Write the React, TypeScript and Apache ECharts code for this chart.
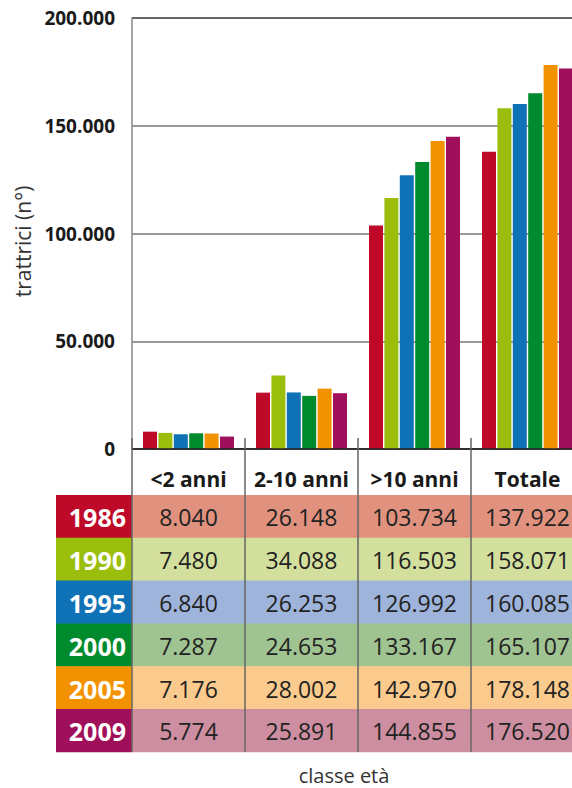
import React, { useEffect, useRef } from "react";
import * as echarts from "echarts";

const categories = ["<2 anni", "2-10 anni", ">10 anni", "Totale"];
const years = ["1986", "1990", "1995", "2000", "2005", "2009"];
const values1986 = [8040, 26148, 103734, 137922];
const values1990 = [7480, 34088, 116503, 158071];
const values1995 = [6840, 26253, 126992, 160085];
const values2000 = [7287, 24653, 133167, 165107];
const values2005 = [7176, 28002, 142970, 178148];
const values2009 = [5774, 25891, 144855, 176520];
const seriesValues = [values1986, values1990, values1995, values2000, values2005, values2009];
const barColors = ["#BE0A28", "#9BBE0C", "#1072B6", "#008A2E", "#F39200", "#A00F5A"];
const cellColors = ["#E0927F", "#D3E09D", "#9FB4DA", "#A0C392", "#FBCB8D", "#CC8EA0"];
const yTicks = { min: 0, max: 200000, interval: 50000 };

const FONT = "'Open Sans', 'Noto Sans', sans-serif";

function fmt(n: number): string {
  return String(n).replace(/\B(?=(\d{3})+(?!\d))/g, ".");
}

export default function App() {
  const ref = useRef<HTMLDivElement>(null);
  useEffect(() => {
    if (!ref.current) return;
    const chart = echarts.init(ref.current, null, { renderer: "svg" });
    const gridLeft = 132;
    const gridTop = 18;
    const gridBottomY = 449;
    const tableTop = 495;
    const rowH = 42.8;
    const tableBottom = tableTop + rowH * years.length;

    chart.setOption({
      animation: false,
      textStyle: { fontFamily: FONT },
      grid: {
        left: gridLeft,
        top: gridTop,
        right: -12,
        bottom: 788 - gridBottomY,
        containLabel: false,
        outerBoundsMode: "none",
      },
      xAxis: [
        {
          type: "category",
          data: categories,
          z: 10,
          axisLine: { show: true, lineStyle: { color: "#222", width: 1.5 } },
          axisTick: {
            show: true,
            interval: 0,
            length: tableBottom - gridBottomY,
            lineStyle: { color: "#666", width: 1.5 },
          },
          axisLabel: {
            interval: 0,
            hideOverlap: false,
            margin: 19,
            color: "#1a1a1a",
            fontWeight: "bold",
            fontSize: 21,
            fontFamily: FONT,
          },
        },
        {
          type: "category",
          data: categories,
          position: "bottom",
          z: 10,
          axisLine: { show: false },
          axisTick: {
            show: true,
            interval: 0,
            inside: true,
            length: 11,
            lineStyle: { color: "#666", width: 1.5 },
          },
          axisLabel: { show: false },
        },
      ],
      yAxis: {
        type: "value",
        min: yTicks.min,
        max: yTicks.max,
        interval: yTicks.interval,
        name: "trattrici (n°)",
        nameLocation: "middle",
        nameRotate: 90,
        nameGap: 96,
        nameTextStyle: { fontSize: 21, color: "#333", fontFamily: FONT, padding: [0, 16, 0, 0] },
        axisLine: { show: true, lineStyle: { color: "#888", width: 1.5 } },
        axisTick: { show: false },
        axisLabel: {
          margin: 17,
          color: "#1a1a1a",
          fontWeight: "bold",
          fontSize: 19,
          fontFamily: FONT,
          formatter: (v: number) => fmt(v),
        },
        splitLine: {
          show: true,
          lineStyle: { color: ["#333", "#777", "#777", "#777", "#333"], width: 1.5 },
        },
      },
      series: years.map((y, i) => ({
        name: y,
        type: "bar",
        data: seriesValues[i],
        barWidth: 14,
        barGap: "10%",
        itemStyle: { color: barColors[i] },
      })),
    });

    const centers = categories.map((c) => chart.convertToPixel({ xAxisIndex: 0 }, c) as number);
    const catW = centers.length > 1 ? centers[1] - centers[0] : 113;
    const elements: any[] = [];
    years.forEach((y, r) => {
      const top = tableTop + r * rowH;
      elements.push({
        type: "rect",
        z: 1,
        shape: { x: 56, y: top, width: gridLeft - 56, height: rowH + 0.5 },
        style: { fill: barColors[r] },
      });
      elements.push({
        type: "rect",
        z: 1,
        shape: { x: gridLeft, y: top, width: catW * categories.length + 20, height: rowH + 0.5 },
        style: { fill: cellColors[r] },
      });
      elements.push({
        type: "text",
        z: 2,
        x: 126,
        y: top + rowH / 2 + 1,
        style: {
          text: y,
          fill: "#fff",
          font: `bold 25px ${FONT}`,
          textAlign: "right",
          textVerticalAlign: "middle",
        },
      });
      categories.forEach((c, ci) => {
        elements.push({
          type: "text",
          z: 2,
          x: centers[ci],
          y: top + rowH / 2 + 1,
          style: {
            text: fmt(seriesValues[r][ci]),
            fill: "#222",
            font: `23px ${FONT}`,
            textAlign: "center",
            textVerticalAlign: "middle",
          },
        });
      });
    });
    elements.push({
      type: "text",
      z: 2,
      x: 344,
      y: 775,
      style: {
        text: "classe età",
        fill: "#333",
        font: `20px ${FONT}`,
        textAlign: "center",
        textVerticalAlign: "middle",
      },
    });
    chart.setOption({ graphic: { elements } });

    return () => chart.dispose();
  }, []);
  return (
    <div
      ref={ref}
      style={{ position: "absolute", left: 0, top: 0, width: 572, height: 788, background: "#fff" }}
    />
  );
}
